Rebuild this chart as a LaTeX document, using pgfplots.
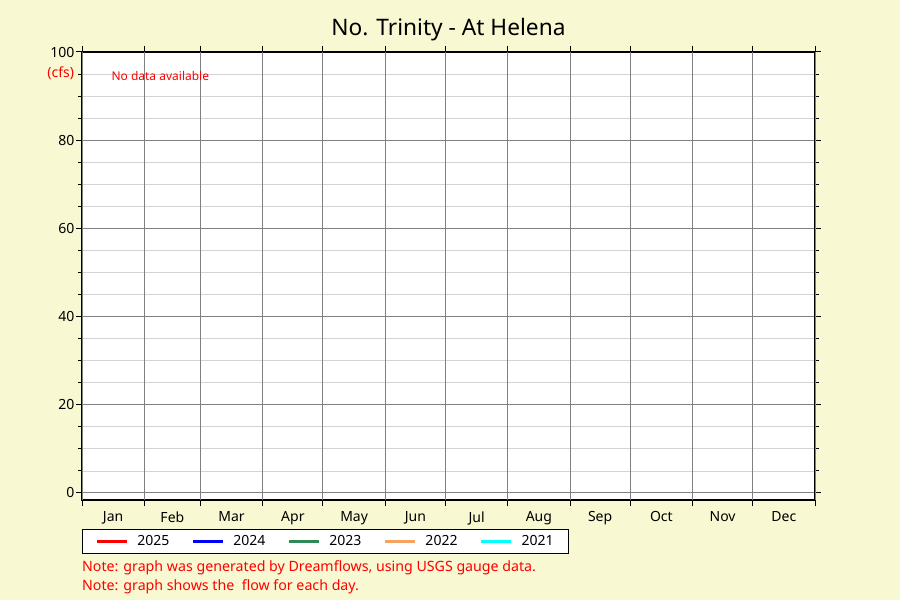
\documentclass[border=0pt]{standalone}
\usepackage{pgfplots}
\pgfplotsset{compat=1.18}
\usepackage{fontspec}
\setmainfont{Noto Sans}

\definecolor{bgyellow}{RGB}{248,248,210}
\definecolor{gridgray}{RGB}{128,128,128}
\definecolor{minorgray}{RGB}{211,211,211}
\definecolor{c2025}{RGB}{255,0,0}
\definecolor{c2024}{RGB}{0,0,255}
\definecolor{c2023}{RGB}{46,139,87}
\definecolor{c2022}{RGB}{244,164,96}
\definecolor{c2021}{RGB}{0,255,255}

\begin{document}
\begin{tikzpicture}[x=1pt,y=1pt]
\fill[bgyellow] (0,0) rectangle (900,600);
\begin{axis}[
  at={(82pt,100pt)}, anchor=south west,
  scale only axis, width=733pt, height=448pt,
  xmin=0, xmax=365, ymin=-1.59, ymax=100,
  clip=false,
  axis background/.style={fill=white},
  axis line style={black, line width=1.2pt},
  tick align=outside,
  major tick length=6pt, minor tick length=4pt,
  tick style={black, line width=1pt},
  xtick={15.5,45,74.5,105,135.5,166,196.5,227.5,258,288.5,319,349.5},
  xticklabels={Jan,Feb,Mar,Apr,May,Jun,Jul,Aug,Sep,Oct,Nov,Dec},
  xtick style={draw=none},
  xticklabel style={yshift=-2pt},
  yticklabel style={xshift=2pt},
  extra x ticks={0,31,59,90,120,151,181,212,243,273,304,334,365},
  extra x tick labels={},
  extra x tick style={xmajorgrids=true, xtick style={draw=black, line width=1pt}},
  ytick={0,20,40,60,80,100},
  minor y tick num=3,
  ymajorgrids, yminorgrids,
  major grid style={gridgray, line width=1pt},
  minor grid style={minorgray, line width=0.8pt},
  tick label style={font=\fontsize{14}{16}\selectfont},
  /pgf/number format/assume math mode=true,
  title={No. Trinity - At Helena},
  title style={font=\fontsize{22.7}{26}\selectfont, at={(0.5,1)}, anchor=base, yshift=10pt},
  legend columns=5,
  legend image code/.code={\draw[#1, line width=3pt] (0pt,0pt) -- (30pt,0pt);},
  legend style={at={(0,-0.0647)}, anchor=north west, draw=black, line width=0.8pt,
    font=\fontsize{14}{16}\selectfont, inner ysep=4pt, inner xsep=13pt,
    /tikz/every odd column/.append style={column sep=7pt},
    /tikz/every even column/.append style={column sep=20pt},
    cells={anchor=west}},
]
\addlegendimage{c2025}
\addlegendentry{2025}
\addlegendimage{c2024}
\addlegendentry{2024}
\addlegendimage{c2023}
\addlegendentry{2023}
\addlegendimage{c2022}
\addlegendentry{2022}
\addlegendimage{c2021}
\addlegendentry{2021}
\node[anchor=east, text=red, font=\fontsize{14}{16}\selectfont] at (rel axis cs:-0.006,0.953) {(cfs)};
\node[anchor=west, text=red, font=\fontsize{12}{14}\selectfont] at (rel axis cs:0.0355,0.946) {No data available};
\end{axis}
\node[anchor=west, text=red, font=\fontsize{14.2}{17}\selectfont, inner sep=0pt] at (82,32) {Note: graph was generated by Dreamflows, using USGS gauge data.};
\node[anchor=west, text=red, font=\fontsize{14.2}{17}\selectfont, inner sep=0pt] at (82,13) {Note: graph shows the\ \ flow for each day.};
\end{tikzpicture}
\end{document}
